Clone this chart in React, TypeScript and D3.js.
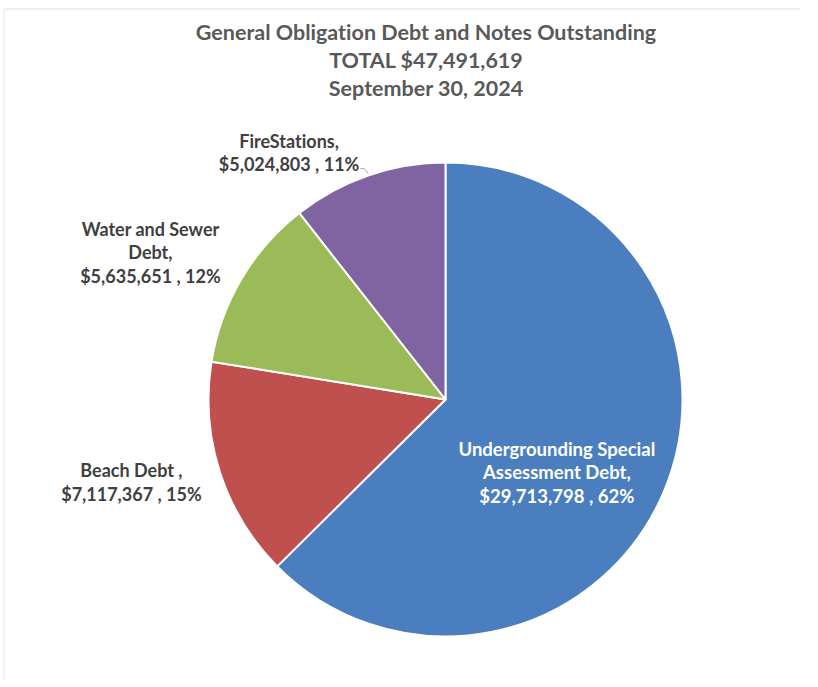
import React from "react";
import * as d3 from "d3";

const categories = [
  "Undergrounding Special Assessment Debt",
  "Beach Debt",
  "Water and Sewer Debt",
  "FireStations",
];
const values = [29713798, 7117367, 5635651, 5024803];
const labelLines = [
  ["Undergrounding Special", "Assessment Debt,", "$29,713,798 , 62%"],
  ["Beach Debt ,", "$7,117,367 , 15%"],
  ["Water and Sewer", "Debt,", "$5,635,651 , 12%"],
  ["FireStations,", "$5,024,803 , 11%"],
];
const colors = ["#4A7EBF", "#C0504D", "#9BBB59", "#8064A2"];
const titleLines = [
  "General Obligation Debt and Notes Outstanding",
  "TOTAL $47,491,619",
  "September 30, 2024",
];

// layout (relative to pie center, in units of radius)
const labelLayout = [
  { fx: 0.47, fy: 0.31, fill: "#FFFFFF" },
  { fx: -1.325, fy: 0.35, fill: "#404040" },
  { fx: -1.245, fy: -0.62, fill: "#404040" },
  { fx: -0.66, fy: -1.04, fill: "#404040" },
];

const W = 818;
const H = 687;
const cx = 445.5;
const cy = 399.5;
const R = 237;
const FONT = "Lato, 'Open Sans', sans-serif";
const noLig = { fontVariantLigatures: "none", fontFeatureSettings: "'liga' 0, 'clig' 0" } as React.CSSProperties;

export default function App() {
  const pie = d3.pie<number>().sort(null).value((d) => d);
  const arcs = pie(values);
  const arcGen = d3.arc<d3.PieArcDatum<number>>().innerRadius(0).outerRadius(R);
  const lineH = 23.5;

  const fire = arcs[3];
  const fireMid = (fire.startAngle + fire.endAngle) / 2;
  const edge: [number, number] = [
    cx + R * Math.sin(fireMid),
    cy - R * Math.cos(fireMid),
  ];

  return (
    <svg
      width={W}
      height={H}
      style={{ position: "absolute", left: 0, top: 0, background: "#fff" }}
    >
      <rect x={0} y={0} width={W} height={H} fill="#fff" />
      <line x1={4} y1={9} x2={800} y2={9} stroke="#e8e8e8" strokeWidth={1.5} />
      <line x1={4} y1={9} x2={4} y2={680} stroke="#ececec" strokeWidth={1.5} />
      {titleLines.map((t, i) => (
        <text
          key={i}
          x={426}
          y={39.5 + i * 28}
          textAnchor="middle"
          fontFamily={FONT}
          fontWeight={700}
          fontSize={21.5}
          fill="#595959"
          style={noLig}
        >
          {t}
        </text>
      ))}
      <g transform={`translate(${cx},${cy})`}>
        {arcs.map((a, i) => (
          <path
            key={categories[i]}
            d={arcGen(a) || ""}
            fill={colors[i]}
            stroke="#fff"
            strokeWidth={2}
            strokeLinejoin="round"
          />
        ))}
      </g>
      <polyline
        points={`${cx - R * 0.36},${cy - R * 0.975} ${edge[0] - 4},${cy - R * 0.975} ${edge[0]},${edge[1] - 2}`}
        fill="none"
        stroke="#a6a6a6"
        strokeWidth={1}
      />
      {labelLines.map((lines, i) => {
        const L = labelLayout[i];
        const x = cx + L.fx * R;
        const y0 = cy + L.fy * R - ((lines.length - 1) * lineH) / 2;
        return (
          <text
            key={i}
            textAnchor="middle"
            fontFamily={FONT}
            fontWeight={700}
            fontSize={i === 0 ? 18.5 : 18}
            fill={L.fill}
            style={noLig}
          >
            {lines.map((ln, j) => (
              <tspan key={j} x={x} y={y0 + j * lineH + 6.5}>
                {ln}
              </tspan>
            ))}
          </text>
        );
      })}
    </svg>
  );
}
